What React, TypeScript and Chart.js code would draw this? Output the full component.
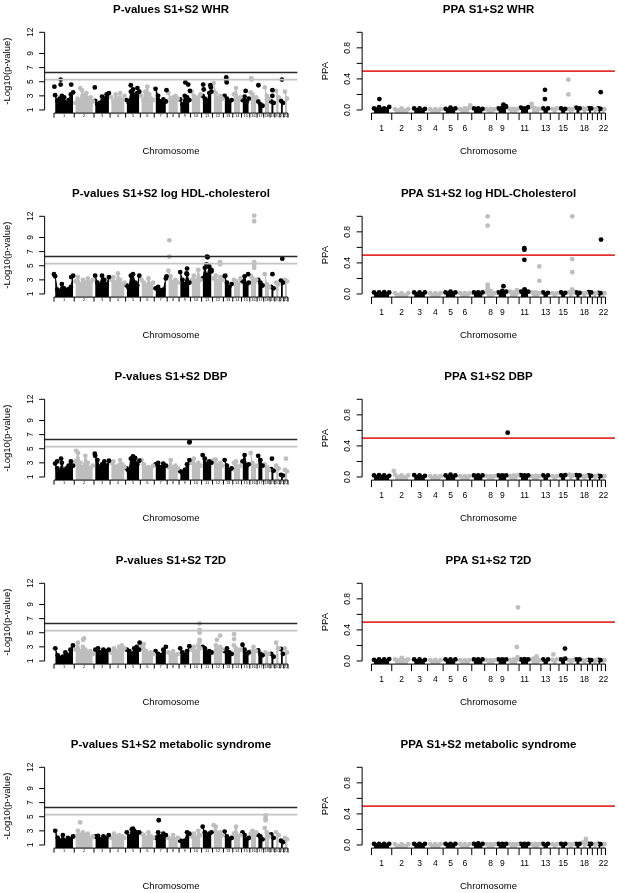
import React, { useEffect, useRef } from "react";
import { Chart, registerables } from "chart.js";

Chart.register(...registerables);

const FONT = '"Liberation Sans", Arial, Helvetica, sans-serif';
const BLACK = "#000000";
const GRAY = "#bebebe";

// ---------- shared axis data ----------
const chromosomes = ["1","2","3","4","5","6","7","8","9","10","11","12","13","14","15","16","17","18","19","20","21","22"];
const chromosomeLengthsMb = [249,243,198,191,181,171,159,146,141,136,135,134,115,107,102,90,81,78,59,63,48,51];
const pValueTicks = [1, 3, 5, 7, 9, 12];
const ppaTicks = [0, 0.2, 0.4, 0.6, 0.8, 1];
const ppaTickLabels = ["0.0", "", "0.4", "", "0.8", ""];
const ppaAxisChromosomes = ["1","2","3","4","5","6","8","9","11","13","15","18","22"];
const genomeWideThreshold = 6.3;
const suggestiveThreshold = 5.3;
const ppaThreshold = 0.5;

type Hit = [number, number, number]; // [chromosome, fraction along chromosome, value]

// ---------- WHR ----------
const whrPvalues: number[][] = [
  [3.1,2.3,2.6,3.0,2.8,2.0,2.4,3.2,3.5],[2.0,2.6,2.2,3.8,3.0,3.4,2.6,2.8,2.2],[2.3,1.8,2.0,2.9,2.6,3.2,3.4],
  [2.8,2.2,3.2,2.6,3.4,2.4,3.0],[2.4,2.0,3.6,3.9,3.0,3.4,3.6],[3.0,2.4,3.6,4.3,3.2,2.6,2.4],
  [4.0,3.0,2.2,2.5,2.2],[3.4,2.6,2.8,3.0,2.6],[2.5,1.8,3.0,2.8,2.4],[3.6,3.0,2.4,2.8,3.2],
  [3.0,2.6,2.2,3.4,3.6],[4.8,3.4,2.6,3.0,2.6],[3.0,2.6,2.2,2.4],[3.2,4.1,2.6,2.8],[2.4,2.9,2.2,2.6],
  [3.5,3.2,2.6,2.8],[2.2,1.8,1.6],[4.2,3.0,2.6],[2.2,2.0],[3.7,2.8],[2.3,2.0],[3.6,2.6]
];
const whrPvalueHits: Hit[] = [
  [1,0.02,4.3],[1,0.33,4.6],[1,0.33,5.3],[1,0.85,4.6],[2,0.3,4.1],[3,0.05,4.2],[5,0.35,4.5],[5,0.8,4.1],
  [7,0.95,3.8],[9,0.55,4.9],[9,0.8,4.6],[9,0.95,3.7],[11,0.15,4.6],[11,0.2,3.9],[11,0.8,4.5],[11,0.85,4.2],
  [13,0.3,5.6],[13,0.3,5.3],[13,0.35,4.9],[15,0.5,3.7],[16,0.2,5.5],[16,0.25,5.3],[17,0.2,4.5],[19,0.5,3.8],
  [19,0.5,3.0],[21,0.5,5.3]
];
const whrPpa: number[][] = [
  [0.02,0.035,0.02,0.04],[0.01,0.02,0.01],[0.02,0.02,0.015],[0.01,0.01,0.01],[0.015,0.03,0.02],
  [0.01,0.02,0.03],[0.02,0.02,0.015],[0.01,0.015,0.01],[0.02,0.03,0.04],[0.01,0.015,0.01],
  [0.03,0.02,0.035],[0.04,0.02,0.015],[0.02,0.02],[0.015,0.02],[0.02,0.015],[0.015,0.01],
  [0.03,0.02],[0.02,0.015],[0.02,0.02],[0.015,0.01],[0.02,0.015],[0.01,0.01]
];
const whrPpaHits: Hit[] = [
  [1,0.39,0.14],[6,0.9,0.06],[9,0.6,0.07],[9,0.8,0.05],[12,0.15,0.08],[12,0.2,0.04],[13,0.43,0.26],
  [13,0.43,0.14],[16,0.15,0.39],[16,0.15,0.2],[21,0.83,0.23]
];

// ---------- log HDL-cholesterol ----------
const hdlPvalues: number[][] = [
  [3.5,1.6,1.4,2.4,1.8,1.5,1.7,2.0,3.6],[2.8,3.4,2.4,3.0,2.6,3.2,2.6,3.0],[3.6,2.6,2.2,3.6,3.0,2.4,3.4],
  [3.0,3.4,2.6,3.9,3.0,2.4,2.6],[2.2,1.8,3.6,3.8,2.6,2.2,3.6],[3.0,2.6,2.2,3.2,2.4,2.6],
  [1.8,2.0,1.5,1.6,3.2],[4.3,3.5,2.6,3.0,2.6],[4.1,3.0,2.4,3.8,2.6],[3.0,3.6,2.8,4.4,3.0],
  [3.2,4.7,3.6,4.9,4.2],[3.2,3.6,2.8,3.4,3.0],[3.5,2.6,2.0,2.4],[3.0,2.8,2.4,3.2],[2.8,3.5,2.4,2.6],
  [3.6,3.2,2.6,3.0],[3.0,2.6,2.2],[3.8,2.4,2.0],[2.0,1.8],[2.6,2.4],[2.9,2.6],[3.0,2.8]
];
const hdlPvalueHits: Hit[] = [
  [1,0.0,3.8],[1,0.85,3.4],[7,0.95,3.5],[8,0.18,8.6],[8,0.18,6.3],[9,0.7,4.6],[9,0.65,3.9],[11,0.5,6.3],
  [11,0.55,6.2],[11,0.45,5.2],[11,0.5,4.9],[11,0.9,4.4],[12,0.7,5.5],[12,0.7,5.2],[13,0.2,3.6],[15,0.8,3.8],
  [16,0.6,12.1],[16,0.6,11.3],[16,0.6,5.5],[16,0.6,5.1],[16,0.6,4.7],[19,0.5,3.8],[21,0.6,6.0]
];
const hdlPpa: number[][] = [
  [0.02,0.02,0.025,0.02],[0.01,0.01,0.01],[0.02,0.02,0.02],[0.01,0.01,0.01],[0.02,0.03,0.02],
  [0.01,0.01,0.01],[0.02,0.02,0.02],[0.02,0.04,0.01],[0.02,0.04,0.03],[0.03,0.02,0.01],
  [0.03,0.05,0.03],[0.02,0.02,0.01],[0.02,0.015],[0.01,0.01],[0.02,0.015],[0.02,0.02],
  [0.02,0.015],[0.01,0.01],[0.025,0.02],[0.01,0.01],[0.015,0.01],[0.01,0.01]
];
const hdlPpaHits: Hit[] = [
  [8,0.25,1.0],[8,0.25,0.88],[8,0.25,0.12],[8,0.25,0.09],[8,0.25,0.06],[9,0.6,0.10],[10,0.8,0.05],
  [11,0.48,0.59],[11,0.48,0.57],[11,0.48,0.44],[11,0.5,0.06],[12,0.85,0.355],[12,0.85,0.17],
  [16,0.68,1.0],[16,0.68,0.45],[16,0.68,0.28],[16,0.68,0.06],[21,0.92,0.70]
];

// ---------- DBP ----------
const dbpPvalues: number[][] = [
  [2.9,2.2,1.8,3.0,1.8,2.2,2.6,3.2,2.6],[3.2,4.4,3.0,2.4,4.0,3.0,2.2,2.6],[4.0,3.4,2.4,2.8,3.2,2.6,3.3],
  [3.0,3.2,2.4,2.6,3.4,2.8,2.4],[2.2,1.8,3.6,3.9,3.7,2.8,3.3],[3.4,2.8,2.2,2.4,2.2,2.6],
  [2.8,3.0,2.4,2.9,2.6],[2.4,3.4,2.2,2.6,2.2],[1.8,1.6,2.0,2.8,3.4],[3.0,3.6,2.6,3.0,2.6],
  [4.1,3.6,2.8,3.2,3.0],[3.4,3.5,2.6,3.0,2.6],[3.4,2.6,2.0,2.2],[3.0,3.2,2.4,2.6],[3.2,4.1,2.6,2.8],
  [4.4,3.0,2.4,2.6],[4.0,3.4,2.6],[2.8,2.4,2.0],[2.1,1.9],[2.6,2.2],[1.3,1.2],[2.0,1.8]
];
const dbpPvalueHits: Hit[] = [
  [1,0.35,3.6],[1,0.15,3.2],[2,0.1,4.7],[3,0.05,4.3],[9,0.92,6.0],[9,0.9,5.9],[19,0.4,3.6],[22,0.5,3.6]
];
const dbpPpa: number[][] = [
  [0.02,0.025,0.02,0.015],[0.03,0.02,0.02],[0.025,0.02,0.015],[0.01,0.01,0.01],[0.02,0.03,0.02],
  [0.01,0.01,0.01],[0.02,0.02,0.02],[0.01,0.01,0.01],[0.02,0.02,0.02],[0.01,0.02,0.02],
  [0.025,0.02,0.02],[0.01,0.015,0.01],[0.02,0.02],[0.01,0.01],[0.02,0.025],[0.03,0.02],
  [0.025,0.02],[0.01,0.01],[0.02,0.015],[0.01,0.01],[0.015,0.01],[0.01,0.01]
];
const dbpPpaHits: Hit[] = [[9,0.97,0.57],[2,0.1,0.08]];

// ---------- T2D ----------
const t2dPvalues: number[][] = [
  [2.8,1.8,1.4,1.6,2.2,1.8,2.6,3.2],[2.6,3.6,2.4,3.0,2.6,2.2,2.4,2.0],[2.6,2.8,2.2,2.6,2.4,2.6],
  [2.2,2.8,2.4,3.0,3.2,2.8],[2.6,2.4,2.0,2.8,3.0,2.6],[3.0,3.4,2.4,2.0,2.2,2.0],
  [2.4,2.0,1.8,2.6,3.0],[2.2,2.0,2.4,1.8,2.0],[2.8,2.2,1.8,2.4,3.1],[2.6,3.0,2.4,3.2,2.8],
  [3.0,2.8,2.2,2.4,2.2],[2.2,3.2,2.6,3.0,2.6],[2.4,2.8,2.2,2.0],[3.2,2.8,2.4,2.6],[3.3,2.6,2.0,2.2],
  [2.4,3.0,2.4],[2.5,2.0,1.8],[2.2,2.0],[2.0,1.6],[3.6,2.8],[2.7,2.0],[2.8,2.2]
];
const t2dPvalueHits: Hit[] = [
  [2,0.45,4.0],[2,0.5,4.2],[5,0.95,3.6],[10,0.82,6.3],[10,0.82,5.4],[10,0.82,5.0],[10,0.82,4.0],
  [10,0.82,3.7],[12,0.4,4.0],[12,0.7,4.6],[14,0.15,4.8],[14,0.15,4.1]
];
const t2dPpa: number[][] = [
  [0.015,0.02,0.02,0.025],[0.02,0.04,0.02],[0.02,0.02,0.015],[0.01,0.015,0.01],[0.02,0.02,0.02],
  [0.01,0.01,0.01],[0.02,0.02,0.02],[0.01,0.01,0.01],[0.02,0.02,0.02],[0.01,0.02,0.02],
  [0.02,0.025,0.02],[0.02,0.03,0.01],[0.02,0.02],[0.015,0.02],[0.02,0.03],[0.01,0.01],
  [0.02,0.02],[0.01,0.01],[0.015,0.01],[0.01,0.01],[0.015,0.01],[0.01,0.01]
];
const t2dPpaHits: Hit[] = [
  [10,0.9,0.69],[10,0.8,0.18],[10,0.85,0.05],[12,0.6,0.06],[12,0.35,0.03],[14,0.35,0.085],[15,0.72,0.16]
];

// ---------- metabolic syndrome ----------
const metsynPvalues: number[][] = [
  [3.0,2.0,1.6,2.4,1.6,2.0,1.8,2.2],[2.2,3.0,2.4,2.8,2.4,2.6,2.0,2.2],[2.2,2.3,1.8,2.2,2.0,2.4],
  [2.0,2.6,2.2,2.4,2.2,2.0],[2.8,2.2,3.2,3.0,2.8,2.8],[2.6,2.4,2.0,2.8,2.2,2.0],
  [2.0,2.8,2.2,2.6,2.4],[2.0,1.8,2.4,1.8,2.0],[1.6,1.5,1.6,2.8,2.6],[2.2,2.6,2.0,3.0,2.4],
  [3.6,2.8,2.2,2.6,2.8],[3.8,3.6,2.6,2.8,2.4],[2.9,2.2,1.8,2.0],[2.6,3.6,2.2,2.4],[2.8,2.4,1.8,2.0],
  [2.6,3.0,2.4,2.8],[2.4,2.2,1.8],[3.4,2.8,2.2],[2.5,2.0],[2.8,2.4],[1.6,1.4],[2.0,1.8]
];
const metsynPvalueHits: Hit[] = [
  [2,0.3,4.2],[5,0.5,3.3],[7,0.35,4.5],[18,0.3,5.2],[18,0.3,4.8],[18,0.3,4.5]
];
const metsynPpa: number[][] = [
  [0.015,0.015,0.015,0.015],[0.01,0.01,0.01],[0.015,0.015,0.015],[0.01,0.01,0.01],[0.015,0.015,0.015],
  [0.01,0.01,0.01],[0.015,0.02,0.015],[0.01,0.01,0.01],[0.015,0.015,0.015],[0.01,0.01,0.01],
  [0.015,0.015,0.015],[0.01,0.01,0.01],[0.015,0.015],[0.01,0.01],[0.015,0.015],[0.01,0.01],
  [0.015,0.015],[0.03,0.02],[0.015,0.015],[0.01,0.01],[0.015,0.01],[0.01,0.01]
];
const metsynPpaHits: Hit[] = [[18,0.75,0.08],[18,0.75,0.05]];

// ---------- panels ----------
type Panel = { kind: "p" | "ppa"; row: number; title: string; cols: number[][]; hits: Hit[] };
const panels: Panel[] = [
  { kind: "p", row: 0, title: "P-values S1+S2 WHR", cols: whrPvalues, hits: whrPvalueHits },
  { kind: "ppa", row: 0, title: "PPA S1+S2 WHR", cols: whrPpa, hits: whrPpaHits },
  { kind: "p", row: 1, title: "P-values S1+S2 log HDL-cholesterol", cols: hdlPvalues, hits: hdlPvalueHits },
  { kind: "ppa", row: 1, title: "PPA S1+S2 log HDL-Cholesterol", cols: hdlPpa, hits: hdlPpaHits },
  { kind: "p", row: 2, title: "P-values S1+S2 DBP", cols: dbpPvalues, hits: dbpPvalueHits },
  { kind: "ppa", row: 2, title: "PPA S1+S2 DBP", cols: dbpPpa, hits: dbpPpaHits },
  { kind: "p", row: 3, title: "P-values S1+S2 T2D", cols: t2dPvalues, hits: t2dPvalueHits },
  { kind: "ppa", row: 3, title: "PPA S1+S2 T2D", cols: t2dPpa, hits: t2dPpaHits },
  { kind: "p", row: 4, title: "P-values S1+S2 metabolic syndrome", cols: metsynPvalues, hits: metsynPvalueHits },
  { kind: "ppa", row: 4, title: "PPA S1+S2 metabolic syndrome", cols: metsynPpa, hits: metsynPpaHits },
];

const ROW_TOPS = [0, 184, 367, 551, 735];
const CANVAS_H = 184;
const DOT_R = 2.4;

const totalMb = chromosomeLengthsMb.reduce((a, b) => a + b, 0);
const startsMb: number[] = [];
chromosomeLengthsMb.reduce((acc, l) => { startsMb.push(acc); return acc + l; }, 0);

function line(ctx: CanvasRenderingContext2D, x1: number, y1: number, x2: number, y2: number) {
  ctx.beginPath(); ctx.moveTo(x1, y1); ctx.lineTo(x2, y2); ctx.stroke();
}

const rAxesPlugin = {
  id: "rAxes",
  afterDatasetsDraw(chart: any, _args: any, o: any) {
    const { ctx, chartArea, scales } = chart;
    const ys = scales.y;
    ctx.save();
    ctx.lineWidth = 1.6;
    if (o.kind === "p") {
      ctx.strokeStyle = "#c4c4c4";
      const g = ys.getPixelForValue(suggestiveThreshold);
      line(ctx, chartArea.left, g, chartArea.right, g);
      ctx.strokeStyle = "#2a2a2a";
      const b = ys.getPixelForValue(genomeWideThreshold);
      line(ctx, chartArea.left, b, chartArea.right, b);
    } else {
      ctx.strokeStyle = "rgb(228,48,48)";
      const r = ys.getPixelForValue(ppaThreshold);
      line(ctx, chartArea.left, r, chartArea.right, r);
    }
    ctx.restore();
  },
  afterDraw(chart: any, _args: any, o: any) {
    const { ctx, chartArea, scales } = chart;
    const xs = scales.x, ys = scales.y;
    const isP = o.kind === "p";
    const cx = (chartArea.left + chartArea.right) / 2;
    const cy = (chartArea.top + chartArea.bottom) / 2;
    ctx.save();
    ctx.fillStyle = "#000"; ctx.strokeStyle = "#000"; ctx.lineWidth = 1;
    // title
    ctx.font = `bold 11.5px ${FONT}`;
    ctx.textAlign = "center"; ctx.textBaseline = "alphabetic";
    ctx.fillText(o.title, cx, 12.7);
    // y axis
    const ticks: number[] = isP ? pValueTicks : ppaTicks;
    const ax = chartArea.left;
    line(ctx, ax, ys.getPixelForValue(ticks[0]), ax, ys.getPixelForValue(ticks[ticks.length - 1]));
    ctx.font = `8.5px ${FONT}`;
    ctx.textBaseline = "middle"; ctx.textAlign = "center";
    ticks.forEach((t, i) => {
      const py = ys.getPixelForValue(t);
      line(ctx, ax - 5.5, py, ax, py);
      const label = isP ? String(t) : ppaTickLabels[i];
      if (label) {
        ctx.save(); ctx.translate(ax - 14, py); ctx.rotate(-Math.PI / 2);
        ctx.fillText(label, 0, 0); ctx.restore();
      }
    });
    // y title
    ctx.font = `9.5px ${FONT}`;
    ctx.save(); ctx.translate(ax - 37, cy); ctx.rotate(-Math.PI / 2);
    ctx.fillText(isP ? "-Log10(p-value)" : "PPA", 0, 0); ctx.restore();
    // x axis
    const by = chartArea.bottom;
    const x0 = xs.getPixelForValue(0), x1 = xs.getPixelForValue(totalMb);
    line(ctx, x0, by, x1, by);
    const tickLen = isP ? 4.5 : 7;
    for (let k = 0; k <= chromosomes.length; k++) {
      const v = k < chromosomes.length ? startsMb[k] : totalMb;
      const px = xs.getPixelForValue(v);
      line(ctx, px, by, px, by + tickLen);
    }
    if (isP) {
      ctx.font = `4px ${FONT}`;
      chromosomes.forEach((c, k) => {
        const px = xs.getPixelForValue(startsMb[k] + chromosomeLengthsMb[k] / 2);
        ctx.fillText(c, px, by + 3);
      });
    } else {
      ctx.font = `8.5px ${FONT}`;
      ppaAxisChromosomes.forEach((c) => {
        const k = chromosomes.indexOf(c);
        const px = xs.getPixelForValue(startsMb[k] + chromosomeLengthsMb[k] / 2);
        ctx.fillText(c, px, by + 15.5);
      });
    }
    // x title
    ctx.font = `9.5px ${FONT}`;
    ctx.fillText("Chromosome", cx, 151);
    ctx.restore();
  },
};

function PanelChart({ panel }: { panel: Panel }) {
  const ref = useRef<HTMLCanvasElement>(null);
  const isP = panel.kind === "p";
  const width = isP ? 310 : 309;
  useEffect(() => {
    if (!ref.current) return;
    const genomeStart = isP ? 54 : 61.5; // local pixel where the genome starts
    const genomePx = 234;
    const padX = genomePx * 0.04;
    const areaLeft = genomeStart - padX;
    const areaRight = genomeStart + genomePx + padX;
    const areaTop = 29.2, areaBottom = 113.1;
    const yMin = isP ? 1 : 0, yMax = isP ? 12 : 1;
    const yPad = (yMax - yMin) * 0.04;

    const hitData = panel.hits.map(([c, f, v]) => ({ x: startsMb[c - 1] + f * chromosomeLengthsMb[c - 1], y: v }));
    const hitColors = panel.hits.map(([c]) => (c % 2 === 1 ? BLACK : GRAY));
    const datasets: any[] = [
      {
        type: "scatter", data: hitData, pointRadius: DOT_R, pointBackgroundColor: hitColors,
        pointBorderWidth: 0, order: 0,
      },
    ];
    panel.cols.forEach((vals, k) => {
      const color = k % 2 === 0 ? BLACK : GRAY;
      datasets.push({
        type: "line",
        data: vals.map((v, i) => ({ x: startsMb[k] + ((i + 0.5) / vals.length) * chromosomeLengthsMb[k], y: v })),
        fill: "start", backgroundColor: color, borderColor: color, borderWidth: 1,
        pointRadius: DOT_R, pointBackgroundColor: color, pointBorderWidth: 0, tension: 0, order: 1,
      });
    });

    const chart = new Chart(ref.current, {
      type: "scatter",
      data: { datasets },
      options: {
        responsive: false,
        animation: false,
        events: [],
        layout: { padding: { left: areaLeft, right: width - areaRight, top: areaTop, bottom: CANVAS_H - areaBottom } },
        scales: {
          x: { type: "linear", display: false, min: -totalMb * 0.04, max: totalMb * 1.04 },
          y: { type: "linear", display: false, min: yMin - yPad, max: yMax + yPad },
        },
        plugins: {
          legend: { display: false },
          tooltip: { enabled: false },
          title: { display: false },
          rAxes: { kind: panel.kind, title: panel.title },
        } as any,
      },
      plugins: [rAxesPlugin as any],
    });
    return () => chart.destroy();
  }, []);
  return (
    <canvas
      ref={ref}
      width={width}
      height={CANVAS_H}
      style={{ position: "absolute", left: isP ? 0 : 310, top: ROW_TOPS[panel.row], width, height: CANVAS_H, display: "block" }}
    />
  );
}

export default function App() {
  return (
    <div style={{ position: "fixed", left: 0, top: 0, width: 619, height: 893, overflow: "hidden", background: "#fff" }}>
      {panels.map((p, i) => (
        <PanelChart key={i} panel={p} />
      ))}
    </div>
  );
}
